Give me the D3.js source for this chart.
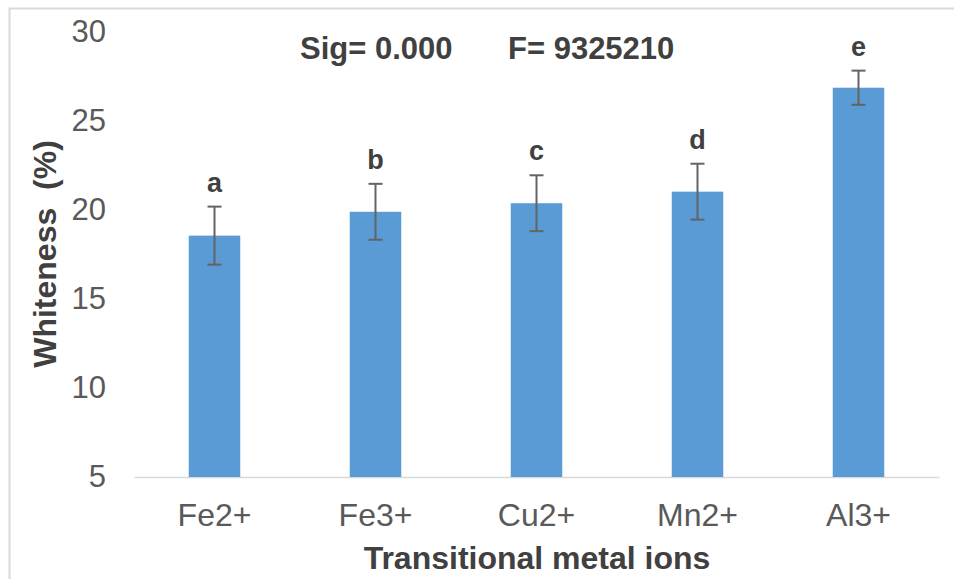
<!DOCTYPE html>
<html>
<head>
<meta charset="utf-8">
<script src="https://cdn.jsdelivr.net/npm/d3@7"></script>
<style>
  body { margin: 0; background: #fff; }
  svg { display: block; font-family: "Liberation Sans", Arial, sans-serif; }
</style>
</head>
<body>
<svg id="chart" width="954" height="579"></svg>
<script>
// chart data
const ions = ['Fe2+', 'Fe3+', 'Cu2+', 'Mn2+', 'Al3+'];
const whiteness = [18.56, 19.9, 20.38, 21.03, 26.87];
const errors = [1.63, 1.57, 1.57, 1.57, 0.96];
const groups = ['a', 'b', 'c', 'd', 'e'];
const yTicks = [5, 10, 15, 20, 25, 30];

const svg = d3.select('#chart');

// outer frame (only top and left edges fall inside the picture)
svg.append('rect')
  .attr('x', 9.5).attr('y', 8.5)
  .attr('width', 1000).attr('height', 700)
  .attr('fill', 'none')
  .attr('stroke', '#d9d9d9')
  .attr('stroke-width', 2);

const x = d3.scaleBand()
  .domain(ions)
  .range([134, 939])
  .paddingInner(0.68)
  .paddingOuter(0.34);

const y = d3.scaleLinear()
  .domain([5, 30])
  .range([477, 32]);

// y axis labels (no line, no ticks)
const yAxis = svg.append('g')
  .attr('transform', 'translate(106,0)')
  .call(d3.axisLeft(y).tickValues(yTicks).tickSize(0).tickPadding(0));
yAxis.select('.domain').remove();
yAxis.selectAll('text')
  .attr('font-size', 31)
  .attr('font-family', '"Liberation Sans", Arial, sans-serif')
  .attr('fill', '#595959');

// x axis
const xAxis = svg.append('g')
  .attr('transform', 'translate(0,477)')
  .call(d3.axisBottom(x).tickSize(0).tickPadding(26));
xAxis.select('.domain')
  .attr('stroke', '#d9d9d9')
  .attr('stroke-width', 1.5);
xAxis.selectAll('text')
  .attr('font-size', 32)
  .attr('font-family', '"Liberation Sans", Arial, sans-serif')
  .attr('fill', '#595959');

// bars
svg.append('g')
  .selectAll('rect')
  .data(ions)
  .join('rect')
  .attr('x', d => x(d))
  .attr('width', x.bandwidth())
  .attr('y', (d, i) => y(whiteness[i]))
  .attr('height', (d, i) => y(5) - y(whiteness[i]))
  .attr('fill', '#5b9bd5');

// error bars
const err = svg.append('g')
  .attr('stroke', '#636363')
  .attr('stroke-width', 2);
ions.forEach((d, i) => {
  const cx = x(d) + x.bandwidth() / 2;
  const top = y(whiteness[i] + errors[i]);
  const bot = y(whiteness[i] - errors[i]);
  err.append('line').attr('x1', cx).attr('x2', cx).attr('y1', top).attr('y2', bot);
  err.append('line').attr('x1', cx - 7).attr('x2', cx + 7).attr('y1', top).attr('y2', top);
  err.append('line').attr('x1', cx - 7).attr('x2', cx + 7).attr('y1', bot).attr('y2', bot);
});

// significance letters
svg.append('g')
  .selectAll('text')
  .data(ions)
  .join('text')
  .attr('x', d => x(d) + x.bandwidth() / 2)
  .attr('y', (d, i) => y(whiteness[i] + errors[i]) - 15)
  .attr('text-anchor', 'middle')
  .attr('font-size', 27)
  .attr('font-weight', 'bold')
  .attr('fill', '#404040')
  .text((d, i) => groups[i]);

// stats annotation
svg.append('text')
  .attr('x', 300).attr('y', 59)
  .attr('font-size', 31)
  .attr('font-weight', 'bold')
  .attr('fill', '#404040')
  .text('Sig= 0.000');
svg.append('text')
  .attr('x', 508).attr('y', 59)
  .attr('font-size', 31)
  .attr('font-weight', 'bold')
  .attr('fill', '#404040')
  .text('F= 9325210');

// axis titles
svg.append('text')
  .attr('transform', 'translate(56,254) rotate(-90)')
  .attr('text-anchor', 'middle')
  .attr('font-size', 32)
  .attr('font-weight', 'bold')
  .attr('fill', '#404040')
  .attr('xml:space', 'preserve')
  .text('Whiteness  (%)');

svg.append('text')
  .attr('x', 537).attr('y', 569)
  .attr('text-anchor', 'middle')
  .attr('font-size', 32)
  .attr('font-weight', 'bold')
  .attr('fill', '#404040')
  .text('Transitional metal ions');
</script>
</body>
</html>
